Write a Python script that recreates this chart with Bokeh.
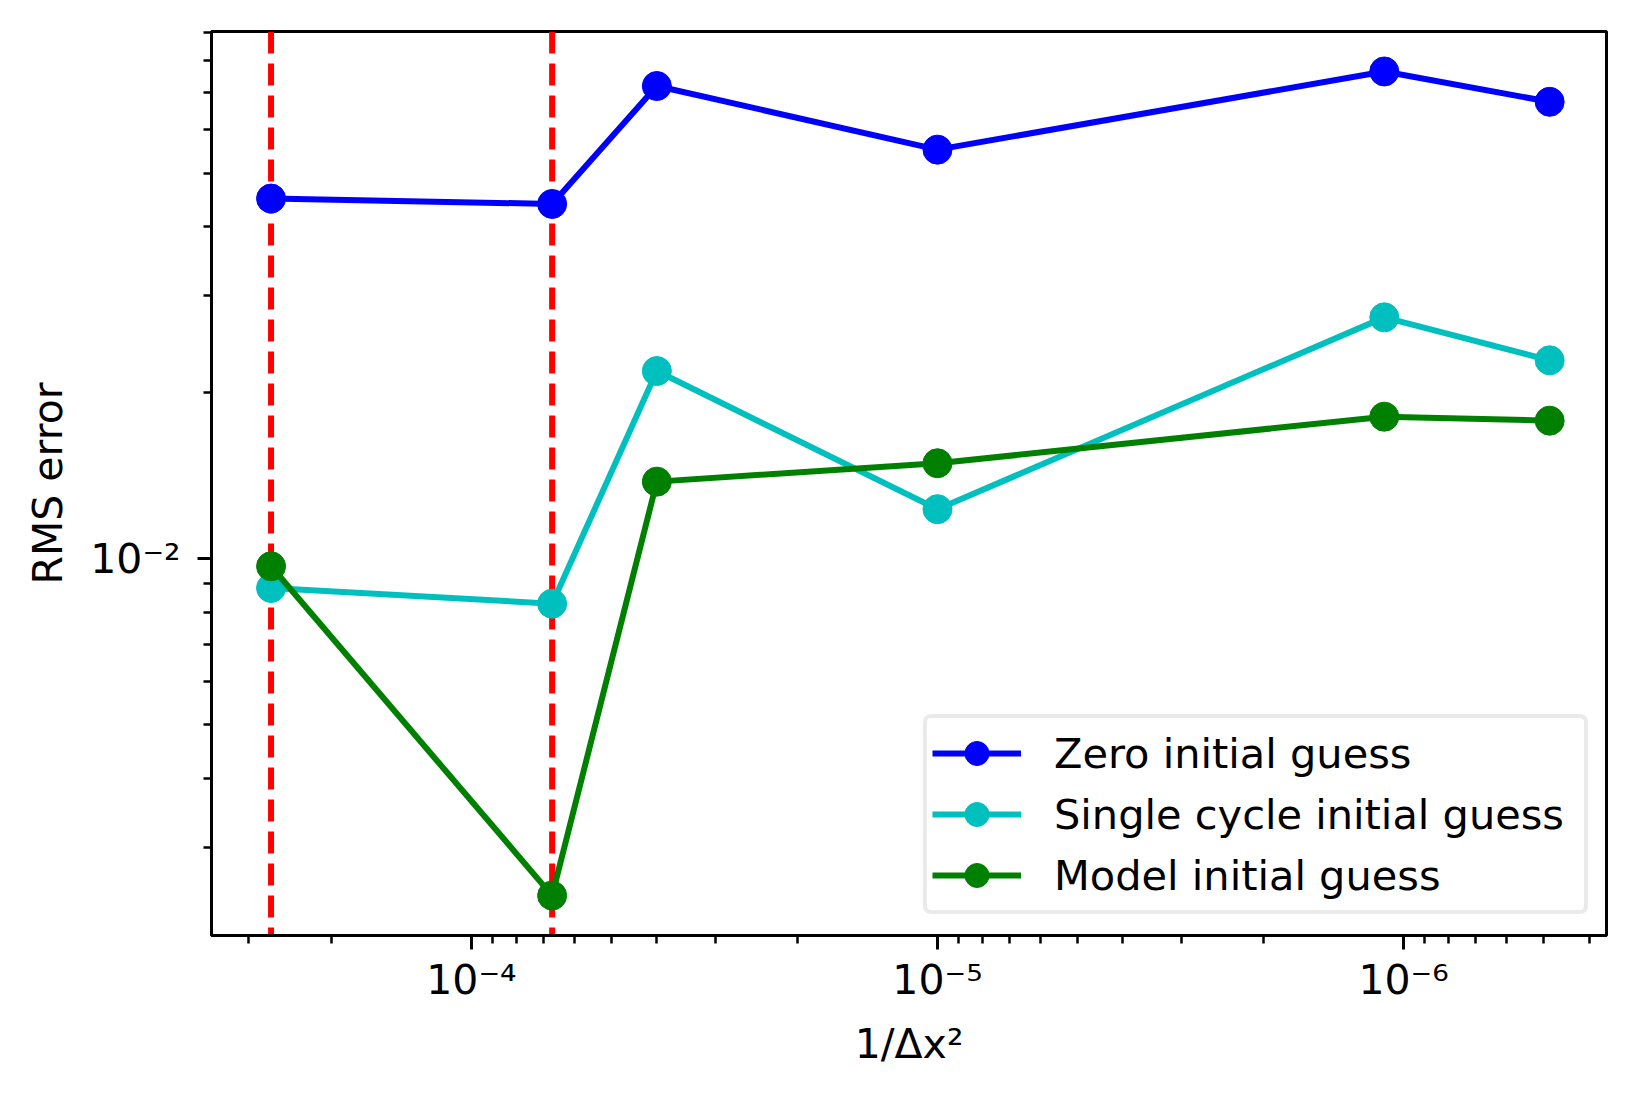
from bokeh.plotting import figure
from bokeh.models import Range1d, FixedTicker, Span
from bokeh.embed import file_html
from bokeh.resources import INLINE

# ---- data ----
dx_inv = [2.69e-4, 6.71e-5, 4.0e-5, 1.0e-5, 1.10e-6, 4.86e-7]
zero_guess = [4.50e-2, 4.40e-2, 7.20e-2, 5.52e-2, 7.65e-2, 6.74e-2]
single_cycle = [8.85e-3, 8.29e-3, 2.19e-2, 1.23e-2, 2.74e-2, 2.29e-2]
model_guess = [9.69e-3, 2.45e-3, 1.38e-2, 1.49e-2, 1.81e-2, 1.78e-2]
vlines = [2.69e-4, 6.71e-5]

x_major = [1e-4, 1e-5, 1e-6]
x_labels = {1e-4: "10⁻⁴", 1e-5: "10⁻⁵", 1e-6: "10⁻⁶"}
y_major = [1e-2]
y_labels = {1e-2: "10⁻²"}

FONT = "DejaVu Sans"
FS = "41px"

p = figure(width=1620, height=1081, x_axis_type="log", y_axis_type="log",
           x_range=Range1d(start=3.61e-4, end=3.67e-7),
           y_range=Range1d(start=2.074e-3, end=9.04e-2),
           output_backend="svg", toolbar_location=None,
           min_border_left=211, min_border_right=14,
           min_border_top=31, min_border_bottom=146)

p.xgrid.visible = False
p.ygrid.visible = False
p.outline_line_color = "black"
p.outline_line_width = 3
p.background_fill_color = "white"
p.border_fill_color = "white"

for v in vlines:
    p.add_layout(Span(location=v, dimension="height", line_color="#ff0000",
                      line_width=6, line_dash="22 10", level="underlay"))

series = [
    ("Zero initial guess", zero_guess, "#0000ff"),
    ("Single cycle initial guess", single_cycle, "#00bfbf"),
    ("Model initial guess", model_guess, "#008000"),
]
for name, ys, col in series:
    p.line(dx_inv, ys, line_color=col, line_width=6, legend_label=name)
    p.scatter(dx_inv, ys, size=29, fill_color=col, line_color=col, legend_label=name)

def minors(lo_exp, hi_exp):
    out = []
    for e in range(lo_exp, hi_exp + 1):
        for m in range(2, 10):
            out.append(m * 10.0 ** e)
    return out

p.xaxis.ticker = FixedTicker(ticks=x_major, minor_ticks=minors(-7, -4))
p.yaxis.ticker = FixedTicker(ticks=y_major, minor_ticks=minors(-3, -2))
p.xaxis.major_label_overrides = x_labels
p.yaxis.major_label_overrides = y_labels

for ax in (p.xaxis[0], p.yaxis[0]):
    ax.axis_line_width = 3
    ax.major_tick_line_width = 3
    ax.minor_tick_line_width = 2.5
    ax.major_tick_in = 0
    ax.major_tick_out = 14
    ax.minor_tick_in = 0
    ax.minor_tick_out = 8
    ax.major_label_text_font = FONT
    ax.major_label_text_font_size = FS
    ax.major_label_text_color = "black"
    ax.axis_label_text_font = FONT
    ax.axis_label_text_font_size = FS
    ax.axis_label_text_font_style = "normal"
    ax.axis_label_text_color = "black"

p.xaxis.axis_label = "1/Δx²"
p.yaxis.axis_label = "RMS error"
p.xaxis.major_label_standoff = 6
p.yaxis.major_label_standoff = 17
p.xaxis.axis_label_standoff = 13
p.yaxis.axis_label_standoff = 15

lg = p.legend[0]
lg.location = (712, 21)
lg.label_text_font = FONT
lg.label_text_font_size = "41.5px"
lg.label_text_color = "black"
lg.glyph_width = 89
lg.glyph_height = 60
lg.spacing = 1
lg.padding = 5
lg.margin = 0
lg.label_standoff = 33
lg.label_width = 525
lg.border_line_color = "#d6d6d6"
lg.border_line_width = 4
lg.background_fill_color = "white"
lg.background_fill_alpha = 1.0
if "border_radius" in lg.properties():
    lg.border_radius = 8

open("out.html", "w").write(file_html(p, INLINE))
